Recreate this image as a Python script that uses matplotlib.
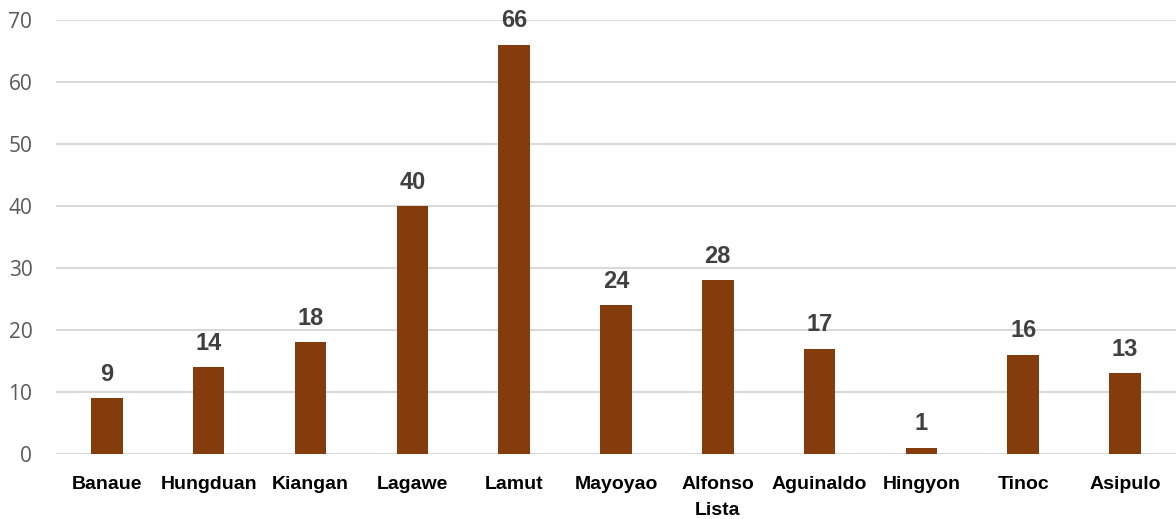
import matplotlib.pyplot as plt

municipios = ['Banaue', 'Hungduan', 'Kiangan', 'Lagawe', 'Lamut', 'Mayoyao',
              'Alfonso\nLista', 'Aguinaldo', 'Hingyon', 'Tinoc', 'Asipulo']
aantal = [9, 14, 18, 40, 66, 24, 28, 17, 1, 16, 13]
yticks = [0, 10, 20, 30, 40, 50, 60, 70]

fig = plt.figure(figsize=(11.76, 5.19), dpi=100)
ax = fig.add_axes([0.0476, 0.1252, 0.9524, 0.8363])

x = list(range(len(municipios)))
ax.bar(x, aantal, width=0.31, color='#843C0C', zorder=3)

for xi, v in zip(x, aantal):
    ax.text(xi, v + 2.0, str(v), ha='center', va='bottom', fontsize=17,
            fontweight='bold', color='#404040', family='Liberation Sans')

ax.set_xlim(-0.5, len(municipios) - 0.5)
ax.set_ylim(0, 70)
ax.set_yticks(yticks)
ax.set_yticklabels([str(t) for t in yticks], fontsize=15, color='#595959',
                   family='Open Sans')
ax.set_xticks(x)
ax.set_xticklabels(municipios, fontsize=14, fontweight='bold', color='black',
                   family='Liberation Sans', linespacing=1.65)
ax.tick_params(axis='both', length=0)
ax.tick_params(axis='x', pad=16)
ax.tick_params(axis='y', pad=17)
ax.grid(axis='y', color='#d9d9d9', linewidth=1.5, zorder=0)
for s in ax.spines.values():
    s.set_visible(False)

fig.savefig('out.png', dpi=100)
